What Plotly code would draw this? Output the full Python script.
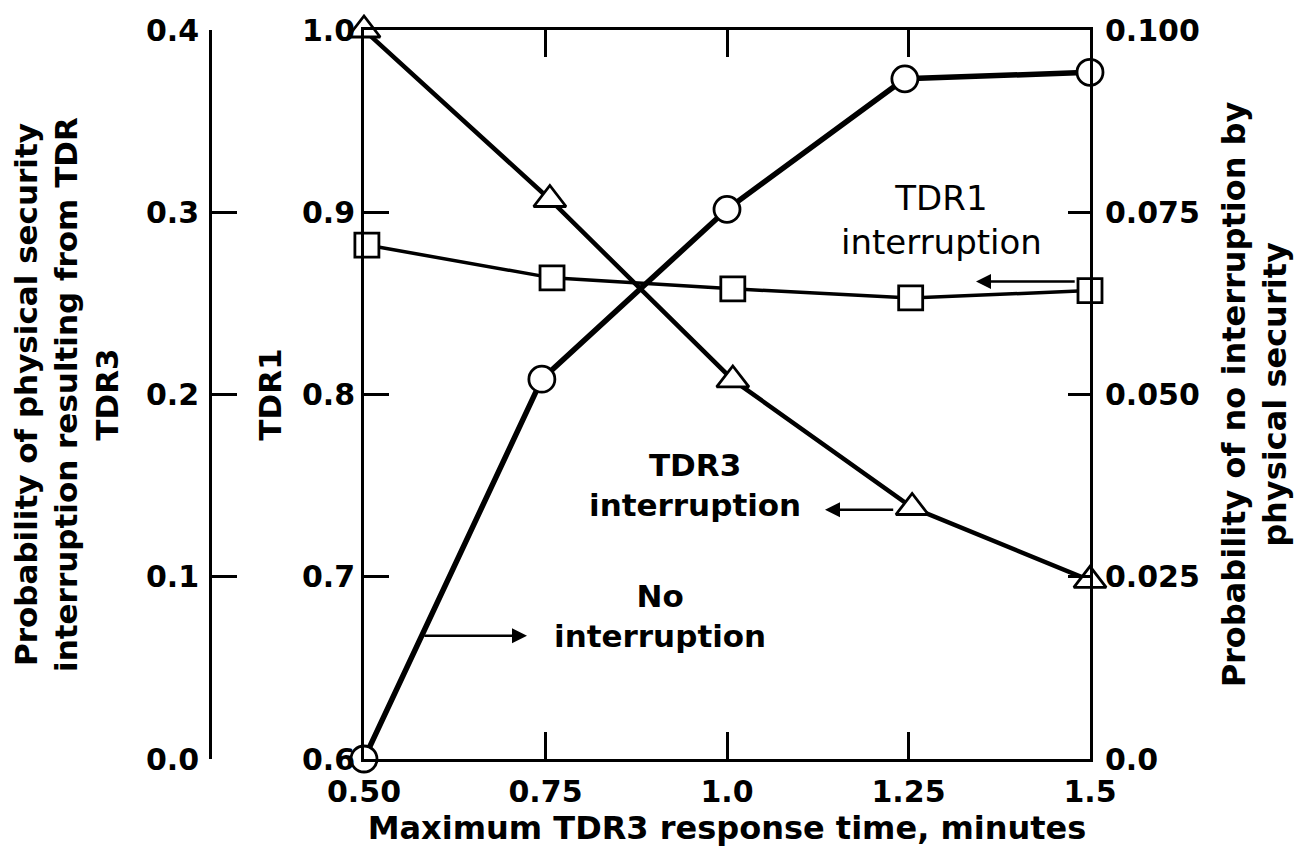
import plotly.graph_objects as go

# ---- data ----
x_ticks = [0.5, 0.75, 1.0, 1.25, 1.5]
x_ticklabels = ["0.50", "0.75", "1.0", "1.25", "1.5"]

tdr1_ticks = [0.6, 0.7, 0.8, 0.9, 1.0]
tdr1_ticklabels = ["0.6", "0.7", "0.8", "0.9", "1.0"]

tdr3_ticks = [0.0, 0.1, 0.2, 0.3, 0.4]
tdr3_ticklabels = ["0.0", "0.1", "0.2", "0.3", "0.4"]

none_ticks = [0.0, 0.025, 0.05, 0.075, 0.1]
none_ticklabels = ["0.0", "0.025", "0.050", "0.075", "0.100"]

# TDR3 interruption (triangles) -> outer left axis
tdr3_x = [0.5, 0.756, 1.008, 1.255, 1.5]
tdr3_y = [0.400, 0.307, 0.208, 0.138, 0.098]

# TDR1 interruption (squares) -> TDR1 axis
tdr1_x = [0.504, 0.759, 1.008, 1.253, 1.5]
tdr1_y = [0.882, 0.864, 0.858, 0.853, 0.857]

# No interruption (circles) -> right axis
none_x = [0.5, 0.745, 1.0, 1.245, 1.5]
none_y = [0.0, 0.0521, 0.0754, 0.0933, 0.0942]

FONT = "DejaVu Sans, Verdana, sans-serif"
BLACK = "#000000"

# figure is placed 8px in from the page corner
W, H = 1297, 849
L, R, T, B = 142, 215, 22, 98
plot_w = W - L - R
x_left_px = 356
outer_px = 202

fig = go.Figure()

fig.add_trace(go.Scatter(
    x=none_x, y=none_y, yaxis="y3", mode="lines+markers",
    name="No interruption",
    line=dict(color=BLACK, width=5.5),
    marker=dict(symbol="circle", size=26, color="white",
                line=dict(color=BLACK, width=2.8)),
    cliponaxis=False, showlegend=False))

fig.add_trace(go.Scatter(
    x=tdr3_x, y=tdr3_y, yaxis="y2", mode="lines+markers",
    name="TDR3 interruption",
    line=dict(color=BLACK, width=4.5),
    marker=dict(symbol="triangle-up", size=28, color="white",
                line=dict(color=BLACK, width=2.8)),
    cliponaxis=False, showlegend=False))

fig.add_trace(go.Scatter(
    x=tdr1_x, y=tdr1_y, yaxis="y", mode="lines+markers",
    name="TDR1 interruption",
    line=dict(color=BLACK, width=3.5),
    marker=dict(symbol="square", size=24, color="white",
                line=dict(color=BLACK, width=2.8)),
    cliponaxis=False, showlegend=False))

tick_font = dict(family=FONT, size=30, color=BLACK, weight="bold")
ytitle_font = dict(family=FONT, size=31, color=BLACK, weight="bold")
rtitle_font = dict(family=FONT, size=32, color=BLACK, weight="bold")
xtitle_font = dict(family=FONT, size=32, color=BLACK, weight="bold")

axis_common = dict(showgrid=False, zeroline=False, showline=True,
                   linecolor=BLACK, linewidth=2.8, ticks="inside",
                   tickcolor=BLACK, tickwidth=2.5, automargin=False,
                   tickfont=tick_font, tickmode="array")

fig.update_layout(
    width=W, height=H,
    margin=dict(l=L, r=R, t=T, b=B),
    paper_bgcolor="white", plot_bgcolor="white",
    font=dict(family=FONT, color=BLACK),
    xaxis=dict(
        **axis_common,
        domain=[(x_left_px - L) / plot_w, 1],
        range=[0.5, 1.5],
        tickvals=x_ticks, ticktext=x_ticklabels,
        ticklen=27, mirror="ticks", ticklabelstandoff=4,
        title=dict(text="Maximum TDR3 response time, minutes",
                   font=xtitle_font, standoff=6),
    ),
    yaxis=dict(
        **axis_common,
        range=[0.6, 1.0],
        tickvals=tdr1_ticks, ticktext=tdr1_ticklabels,
        ticklen=25, mirror=True, side="left",
        title=dict(text="TDR1", font=ytitle_font, standoff=12),
    ),
    yaxis2=dict(
        **axis_common,
        range=[0.0, 0.4], overlaying="y", anchor="free",
        position=(outer_px - L) / plot_w, side="left",
        tickvals=tdr3_ticks, ticktext=tdr3_ticklabels,
        ticklen=25, ticklabelstandoff=4,
        title=dict(text="Probability of physical security<br>"
                        "interruption resulting from TDR<br>TDR3",
                   font=ytitle_font, standoff=17),
    ),
    yaxis3=dict(
        **axis_common,
        range=[0.0, 0.1], overlaying="y", anchor="x", side="right",
        tickvals=none_ticks, ticktext=none_ticklabels,
        ticklen=22, ticklabelstandoff=6,
        title=dict(text="Probability of no interruption by<br>physical security",
                   font=rtitle_font, standoff=24),
    ),
)

reg_font = dict(family=FONT, size=34, color=BLACK)
bold_font = dict(family=FONT, size=31, color=BLACK, weight="bold")

# text labels
fig.add_annotation(x=1.295, y=0.896, xref="x", yref="y",
                   text="TDR1<br>interruption", showarrow=False, font=reg_font)
fig.add_annotation(x=0.956, y=0.7505, xref="x", yref="y",
                   text="TDR3<br>interruption", showarrow=False, font=bold_font)
fig.add_annotation(x=0.908, y=0.6785, xref="x", yref="y",
                   text="No<br>interruption", showarrow=False, font=bold_font)

# arrows
arrow_style = dict(showarrow=True, arrowhead=2, arrowsize=1.2, arrowwidth=2.5,
                   arrowcolor=BLACK, text="", xref="x", yref="y",
                   axref="x", ayref="y")
fig.add_annotation(x=1.343, y=0.862, ax=1.481, ay=0.862, **arrow_style)
fig.add_annotation(x=1.135, y=0.7368, ax=1.231, ay=0.7368, **arrow_style)
fig.add_annotation(x=0.7245, y=0.6676, ax=0.581, ay=0.6676, **arrow_style)

fig.write_html("out.html")
